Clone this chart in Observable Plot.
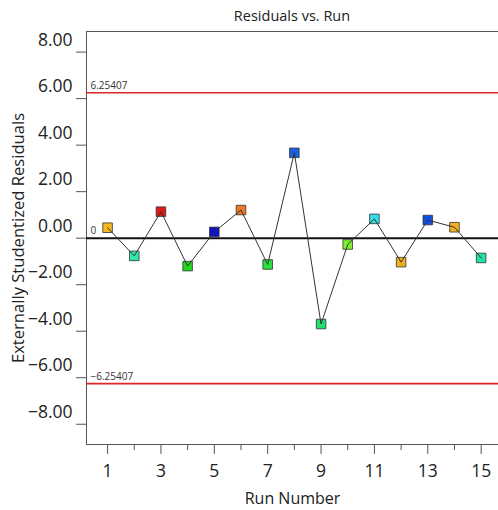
<!DOCTYPE html>
<html>
<head>
<meta charset="utf-8">
<script src="https://cdn.jsdelivr.net/npm/d3@7"></script>
<script src="https://cdn.jsdelivr.net/npm/@observablehq/plot@0.6"></script>
<style>
  html, body { margin: 0; padding: 0; background: #fff; }
  #wrap { position: relative; width: 498px; height: 510px; overflow: hidden; font-family: "Open Sans", sans-serif; }
  #title { position: absolute; left: 86px; width: 412px; top: 6px; text-align: center; font-size: 14.5px; color: #222; }
</style>
</head>
<body>
<div id="wrap">
  <div id="title">Residuals vs. Run</div>
</div>
<script>
const runs = [1, 2, 3, 4, 5, 6, 7, 8, 9, 10, 11, 12, 13, 14, 15];
const residuals = [0.45, -0.76, 1.14, -1.20, 0.27, 1.21, -1.13, 3.67, -3.69, -0.27, 0.83, -1.03, 0.78, 0.47, -0.85];
const pointColors = ["#f5b820", "#30e8a8", "#e01818", "#20d820", "#1010d0", "#f07820", "#28e040", "#1860e0",
                     "#20e070", "#80f030", "#30e0e8", "#f0b020", "#1050e0", "#f0b020", "#20e0a8"];
const limit = 6.25407;
const limitLabels = ["6.25407", "\u22126.25407"];
const yTicks = [-8, -6, -4, -2, 0, 2, 4, 6, 8];
const xMajorTicks = [1, 3, 5, 7, 9, 11, 13, 15];
const xMinorTicks = [2, 4, 6, 8, 10, 12, 14];
const titleX = "Run Number";
const titleY = "Externally Studentized Residuals";

const xDomain = [0.21, 15.65];
const yDomain = [-8.87, 8.886];
const data = runs.map((r, i) => ({run: r, res: residuals[i], color: pointColors[i]}));
const fmt = v => (v < 0 ? "\u2212" : "") + Math.abs(v).toFixed(2);

const chart = Plot.plot({
  width: 498,
  height: 510,
  marginTop: 31,
  marginBottom: 66,
  marginLeft: 86,
  marginRight: 0,
  style: {fontFamily: "Open Sans, sans-serif", color: "#222", background: "#fff"},
  x: {domain: xDomain},
  y: {domain: yDomain},
  marks: [
    Plot.ruleY([yDomain[1], yDomain[0]], {stroke: "#555", strokeWidth: 1}),
    Plot.ruleX([xDomain[0]], {stroke: "#555", strokeWidth: 1}),
    Plot.axisY({ticks: yTicks, tickSize: 10, tickFormat: () => "", label: null, stroke: "#555"}),
    Plot.axisY({ticks: yTicks, tickSize: 0, tickPadding: 14, dy: -12, fontSize: 17.5, tickFormat: fmt, label: null}),
    Plot.axisX({ticks: xMajorTicks, tickSize: 10, tickPadding: 10, fontSize: 17.5, tickFormat: d => String(d), label: null, stroke: "#555"}),
    Plot.axisX({ticks: xMinorTicks, tickSize: 6, tickFormat: () => "", label: null, stroke: "#555"}),
    Plot.ruleY([limit, -limit], {stroke: "#e0262a", strokeWidth: 1.6}),
    Plot.ruleY([0], {stroke: "#111", strokeWidth: 2}),
    Plot.text(limitLabels, {x: () => xDomain[0], y: (d, i) => i === 0 ? limit : -limit, dx: 4, dy: -7, textAnchor: "start", fontSize: 10, fill: "#333"}),
    Plot.text(["0"], {x: () => xDomain[0], y: () => 0, dx: 4, dy: -7, textAnchor: "start", fontSize: 10, fill: "#333"}),
    Plot.dot(data, {x: "run", y: "res", symbol: "square", r: 5.4, fill: "color", stroke: "#333", strokeWidth: 0.8}),
    Plot.line(data, {x: "run", y: "res", stroke: "#333", strokeWidth: 1}),
    Plot.text([titleX], {frameAnchor: "bottom", dy: 59, fontSize: 16, fill: "#222"}),
    Plot.text([titleY], {frameAnchor: "left", dx: -68, rotate: -90, textAnchor: "middle", lineAnchor: "middle", fontSize: 16.6, fill: "#222"})
  ]
});
document.getElementById("wrap").appendChild(chart);
chart.style.position = "absolute";
chart.style.left = "0";
chart.style.top = "0";
document.getElementById("title").style.zIndex = "2";
</script>
</body>
</html>
